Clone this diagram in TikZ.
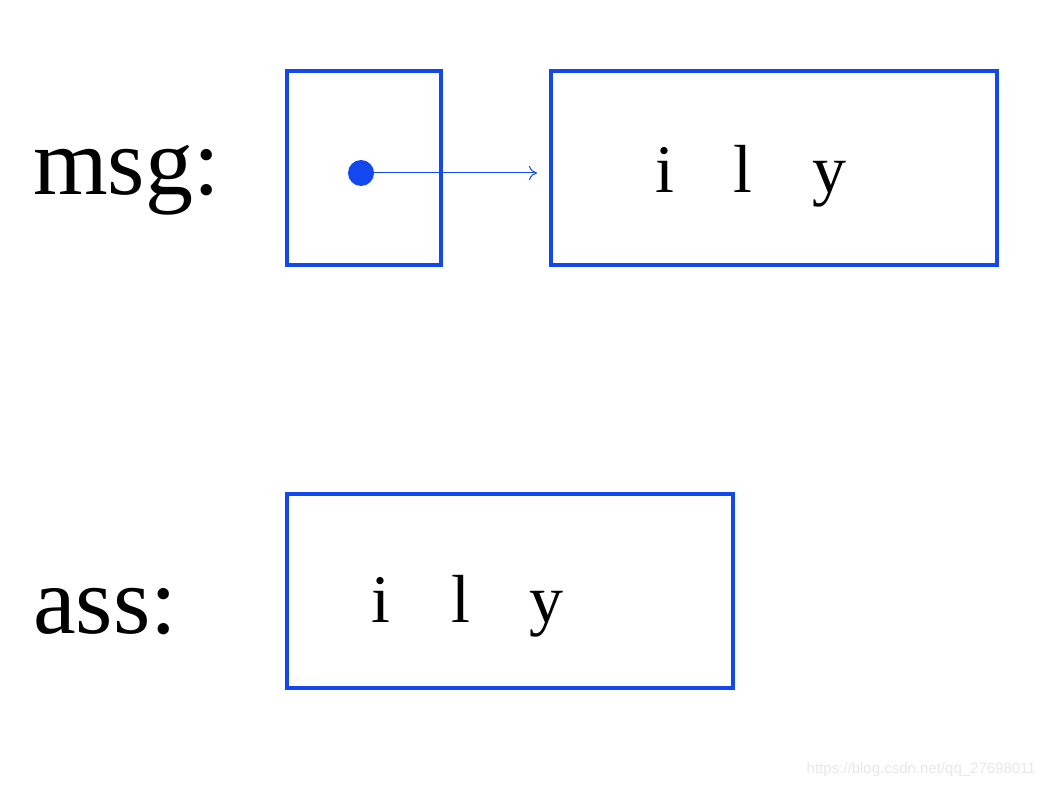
\documentclass[tikz,border=0pt]{standalone}
\usepackage{fontspec}
\setmainfont{Liberation Serif}
\newfontfamily\wmfont{Liberation Sans}
\usetikzlibrary{arrows.meta}
\definecolor{boxblue}{RGB}{18,72,238}
\definecolor{wm}{RGB}{232,232,232}
\tikzset{
  cell/.style={draw=boxblue, line width=4.5pt, inner sep=0pt},
  label/.style={font=\fontsize{96}{96}\selectfont, anchor=base west, inner sep=0pt},
  letter/.style={font=\fontsize{68}{68}\selectfont, anchor=base, inner sep=0pt},
  ptr/.style={draw=boxblue, line width=1pt, -{To[length=8pt,width=14pt]}}
}
\begin{document}
\begin{tikzpicture}[x=1pt,y=-1pt]
\useasboundingbox (0,0) rectangle (1043,786);
\fill[white] (0,0) rectangle (1043,786);
% labels
\node[label] (msg) at (33,195) {msg:};
\node[label] (ass) at (33,633) {ass:};
% boxes
\node[cell, minimum width=154pt, minimum height=194pt] (p) at (364,168) {};
\node[cell, minimum width=446pt, minimum height=194pt] (s1) at (774,168) {};
\node[cell, minimum width=446pt, minimum height=194pt] (s2) at (510,591) {};
% letters
\node[letter] (a1) at (665,193) {i};
\node[letter] (a2) at (743,193) {l};
\node[letter] (a3) at (829,193) {y};
\node[letter] (b1) at (381,622) {i};
\node[letter] (b2) at (461,622) {l};
\node[letter] (b3) at (546,622) {y};
% pointer
\fill[boxblue] (361,173) circle (13);
\coordinate (dot) at (361,173);
\coordinate (tip) at (537,173);
\draw[ptr] (dot) -- (tip);
% watermark
\node[font=\wmfont\fontsize{15}{15}\selectfont, text=wm, anchor=base east, inner sep=0pt] (w) at (1036,773) {https://blog.csdn.net/qq\_27698011};
\end{tikzpicture}
\end{document}
